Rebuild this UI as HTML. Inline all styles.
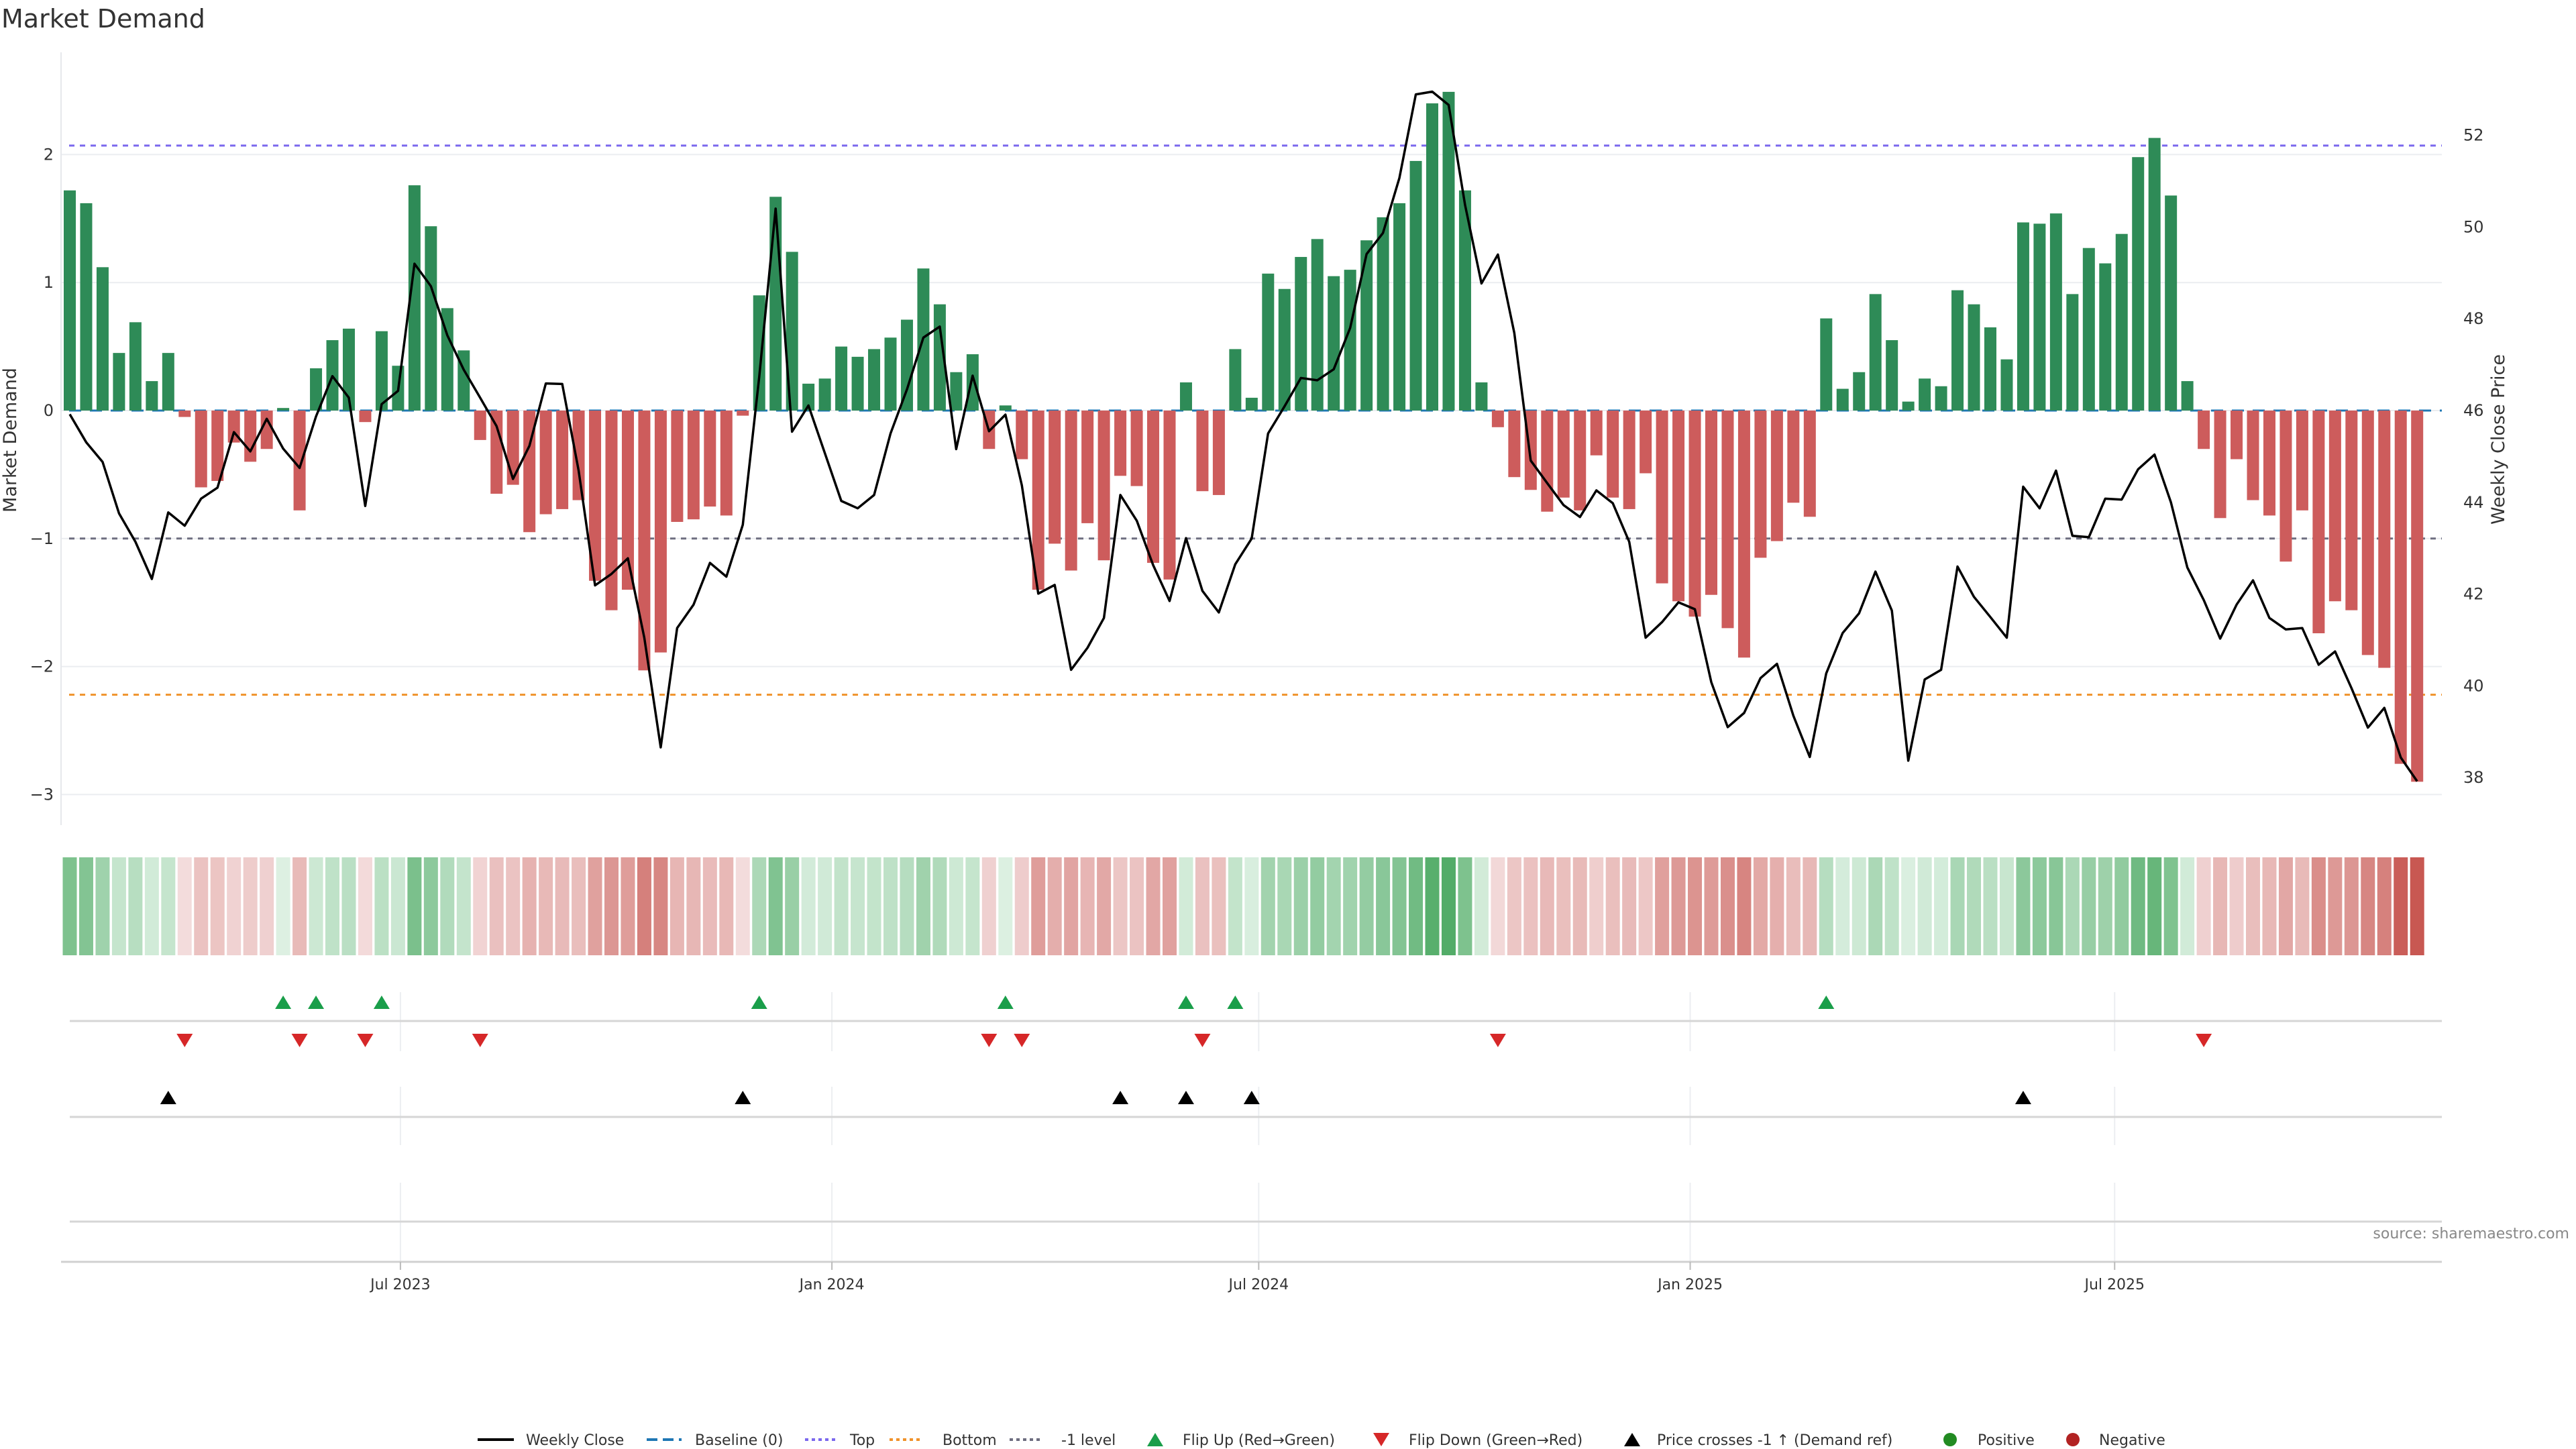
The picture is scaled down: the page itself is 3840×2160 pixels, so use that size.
<!DOCTYPE html>
<html><head><meta charset="utf-8"><style>
html,body{margin:0;padding:0;background:#fff;}
svg{display:block;font-family:"DejaVu Sans","Liberation Sans",sans-serif;}
</style></head><body>
<svg id="chart" width="3840" height="2160" viewBox="0 0 3840 2160" xmlns="http://www.w3.org/2000/svg">
<text x="2" y="41" font-size="38" fill="#333">Market Demand</text>
<g id="grid"></g>
<g id="refs"></g>
<g id="bars"></g>
<g id="price"></g>
<g id="axes"></g>
<g id="heat"></g>
<g id="marks"></g>
<text transform="translate(24,656) rotate(-90)" text-anchor="middle" font-size="27" fill="#333">Market Demand</text>
<text transform="translate(3733,655) rotate(-90)" text-anchor="middle" font-size="27" fill="#333">Weekly Close Price</text>
<text x="3830" y="1846" text-anchor="end" font-size="22" fill="#888">source: sharemaestro.com</text>
<g id="legend"></g>
</svg>
<script>
const demand = [1.72,1.62,1.12,0.45,0.69,0.23,0.45,-0.05,-0.60,-0.55,-0.25,-0.40,-0.30,0.02,-0.78,0.33,0.55,0.64,-0.09,0.62,0.35,1.76,1.44,0.80,0.47,-0.23,-0.65,-0.58,-0.95,-0.81,-0.77,-0.70,-1.33,-1.56,-1.40,-2.03,-1.89,-0.87,-0.85,-0.75,-0.82,-0.04,0.90,1.67,1.24,0.21,0.25,0.50,0.42,0.48,0.57,0.71,1.11,0.83,0.30,0.44,-0.30,0.04,-0.38,-1.40,-1.04,-1.25,-0.88,-1.17,-0.51,-0.59,-1.19,-1.32,0.22,-0.63,-0.66,0.48,0.10,1.07,0.95,1.20,1.34,1.05,1.10,1.33,1.51,1.62,1.95,2.40,2.49,1.72,0.22,-0.13,-0.52,-0.62,-0.79,-0.68,-0.78,-0.35,-0.68,-0.77,-0.49,-1.35,-1.49,-1.61,-1.44,-1.70,-1.93,-1.15,-1.02,-0.72,-0.83,0.72,0.17,0.30,0.91,0.55,0.07,0.25,0.19,0.94,0.83,0.65,0.40,1.47,1.46,1.54,0.91,1.27,1.15,1.38,1.98,2.13,1.68,0.23,-0.30,-0.84,-0.38,-0.70,-0.82,-1.18,-0.78,-1.74,-1.49,-1.56,-1.91,-2.01,-2.76,-2.90];
const closePrice = [45.92,45.31,44.88,43.76,43.14,42.33,43.78,43.49,44.08,44.32,45.53,45.11,45.82,45.17,44.75,45.87,46.75,46.28,43.92,46.14,46.43,49.20,48.71,47.64,46.89,46.28,45.66,44.51,45.23,46.59,46.58,44.69,42.19,42.44,42.78,41.05,38.66,41.26,41.77,42.68,42.38,43.51,46.73,50.40,45.54,46.11,45.07,44.03,43.87,44.16,45.50,46.46,47.59,47.83,45.16,46.76,45.55,45.91,44.37,42.01,42.20,40.35,40.83,41.48,44.16,43.60,42.63,41.85,43.22,42.07,41.60,42.65,43.21,45.50,46.09,46.71,46.66,46.90,47.80,49.41,49.87,51.07,52.89,52.95,52.66,50.48,48.77,49.40,47.69,44.91,44.42,43.94,43.68,44.26,43.98,43.14,41.05,41.39,41.82,41.67,40.08,39.10,39.41,40.17,40.48,39.35,38.45,40.27,41.15,41.58,42.49,41.64,38.37,40.14,40.35,42.60,41.94,41.50,41.05,44.34,43.87,44.69,43.27,43.24,44.08,44.06,44.72,45.04,44.00,42.58,41.87,41.03,41.77,42.30,41.48,41.23,41.26,40.46,40.75,39.95,39.09,39.52,38.44,37.92];
const flipUpIdx = [13,15,19,42,57,68,71,107];
const flipDownIdx = [7,14,18,25,56,58,69,87,130];
const crossIdx = [6,41,64,68,72,119];
const demandTicks = [2,1,0,-1,-2,-3];
const priceTicks = [38,40,42,44,46,48,50,52];
const dateTicks = ["2023-07-01","2024-01-01","2024-07-01","2025-01-01","2025-07-01"];
const dateTickLabels = ["Jul 2023","Jan 2024","Jul 2024","Jan 2025","Jul 2025"];
const startDate = "2023-02-10";
const topLevel = 2.07, bottomLevel = -2.22, minusOneLevel = -1;

const NS="http://www.w3.org/2000/svg";
function mk(tag,attrs,parent){const e=document.createElementNS(NS,tag);for(const k in attrs)e.setAttribute(k,attrs[k]);parent.appendChild(e);return e;}
const X0=104, DX=24.47, PL=91, PR=3640;
const xs=i=>X0+i*DX;
const yd=v=>612-v*190.8;
const yp=p=>612-(p-46)*68.4;
const dateIdx=s=>(new Date(s)-new Date(startDate))/(7*86400000);

const grid=document.getElementById('grid');
demandTicks.forEach(t=>{const l=mk('line',{x1:PL,x2:PR,y1:yd(t),y2:yd(t),stroke:'#ebedf0','stroke-width':2},grid);
});
const refs=document.getElementById('refs');
[[topLevel,'#7b68ee','top-line'],[bottomLevel,'#f0922b','bottom-line'],[minusOneLevel,'#6e6e80','minus-one-line']].forEach(r=>{
const l=mk('line',{x1:PL+12,x2:PR,y1:yd(r[0]),y2:yd(r[0]),stroke:r[1],'stroke-width':3,'stroke-dasharray':'8 8'},refs);
});

const bars=document.getElementById('bars');
demand.forEach((v,i)=>{const y0=yd(0),y1=yd(v);
const b=mk('rect',{x:xs(i)-9,y:Math.min(y0,y1),width:18,height:Math.max(1,Math.abs(y1-y0)),fill:v>=0?'#2e8b57':'#cd5c5c'},bars);
});
const bl=mk('line',{x1:PL+12,x2:PR,y1:yd(0),y2:yd(0),stroke:'#1f77b4','stroke-width':3,'stroke-dasharray':'18 13'},refs);


const pg=document.getElementById('price');
const pl=mk('polyline',{points:closePrice.map((p,i)=>xs(i)+','+yp(p)).join(' '),fill:'none',stroke:'#000','stroke-width':3.5,'stroke-linejoin':'round'},pg);


const ax=document.getElementById('axes');
mk('line',{x1:PL,x2:PL,y1:78,y2:1230,stroke:'#e6e8ec','stroke-width':2},ax);
demandTicks.forEach(t=>{const tx=mk('text',{x:80,y:yd(t)+8,'text-anchor':'end','font-size':24,fill:'#333'},ax);tx.textContent=t<0?'\u2212'+(-t):String(t);
});
priceTicks.forEach(t=>{const tx=mk('text',{x:3672,y:yp(t)+8,'font-size':24,fill:'#333'},ax);tx.textContent=t;
});

// heatmap
const heat=document.getElementById('heat');
const maxP=2.5,maxN=2.9;
function hc(v){let a,b,t;if(v>=0){a=[222,241,227];b=[82,172,104];t=Math.min(1,v/maxP);}else{a=[244,222,222];b=[200,88,82];t=Math.min(1,-v/maxN);}
return 'rgb('+a.map((c,k)=>Math.round(c+(b[k]-c)*t)).join(',')+')';}
demand.forEach((v,i)=>{const r=mk('rect',{x:xs(i)-10.5,y:1278,width:21,height:146,fill:hc(v)},heat);
});

// marker panels
const mg=document.getElementById('marks');
const tickXs=dateTicks.map(d=>xs(dateIdx(d)));
[[1479,1567],[1620,1707],[1763,1881]].forEach(s=>tickXs.forEach(x=>mk('line',{x1:x,x2:x,y1:s[0],y2:s[1],stroke:'#eceef1','stroke-width':2},mg)));
[1522,1665,1821].forEach(y=>mk('line',{x1:X0,x2:PR,y1:y,y2:y,stroke:'#d6d6d6','stroke-width':3},mg));
mk('line',{x1:PL,x2:PR,y1:1881,y2:1881,stroke:'#d0d0d0','stroke-width':3},mg);
function tri(x,y,up,color,name){const h=20,w=12;
const pts=up?[[x,y-h/2],[x+w,y+h/2],[x-w,y+h/2]]:[[x,y+h/2],[x+w,y-h/2],[x-w,y-h/2]];
const p=mk('polygon',{points:pts.map(q=>q.join(',')).join(' '),fill:color},mg);
}
flipUpIdx.forEach(i=>tri(xs(i),1494,true,'#1a9e4a','flip-up-marker'));
flipDownIdx.forEach(i=>tri(xs(i),1551,false,'#d62728','flip-down-marker'));
crossIdx.forEach(i=>tri(xs(i),1636,true,'#000','price-cross-marker'));
tickXs.forEach((x,k)=>{mk('line',{x1:x,x2:x,y1:1881,y2:1893,stroke:'#bbb','stroke-width':2},mg);
const t=mk('text',{x:x,y:1922,'text-anchor':'middle','font-size':22,fill:'#333'},mg);t.textContent=dateTickLabels[k];
});

// legend
const lg=document.getElementById('legend');const LY=2146;
function ltext(x,s,n){const t=mk('text',{x:x,y:LY+8,'font-size':22,fill:'#333'},lg);t.textContent=s;
}
mk('line',{x1:712,x2:766,y1:LY,y2:LY,stroke:'#000','stroke-width':4},lg);ltext(784,'Weekly Close','legend-weekly-close');
mk('line',{x1:964,x2:1016,y1:LY,y2:LY,stroke:'#1f77b4','stroke-width':4,'stroke-dasharray':'16 8'},lg);ltext(1036,'Baseline (0)','legend-baseline');
mk('line',{x1:1200,x2:1248,y1:LY,y2:LY,stroke:'#7b68ee','stroke-width':4,'stroke-dasharray':'5 5'},lg);ltext(1267,'Top','legend-top');
mk('line',{x1:1326,x2:1376,y1:LY,y2:LY,stroke:'#f0922b','stroke-width':4,'stroke-dasharray':'5 5'},lg);ltext(1405,'Bottom','legend-bottom');
mk('line',{x1:1505,x2:1555,y1:LY,y2:LY,stroke:'#6e6e80','stroke-width':4,'stroke-dasharray':'5 5'},lg);ltext(1582,'-1 level','legend-minus-one');
tri(1722,LY,true,'#1a9e4a','legend-flip-up-icon');ltext(1763,'Flip Up (Red\u2192Green)','legend-flip-up');
tri(2059,LY,false,'#d62728','legend-flip-down-icon');ltext(2100,'Flip Down (Green\u2192Red)','legend-flip-down');
tri(2433,LY,true,'#000','legend-cross-icon');ltext(2470,'Price crosses -1 \u2191 (Demand ref)','legend-price-cross');
mk('circle',{cx:2907,cy:LY,r:10,fill:'#228b22'},lg);ltext(2948,'Positive','legend-positive');
mk('circle',{cx:3090,cy:LY,r:10,fill:'#b22222'},lg);ltext(3129,'Negative','legend-negative');
</script>
</body></html>
